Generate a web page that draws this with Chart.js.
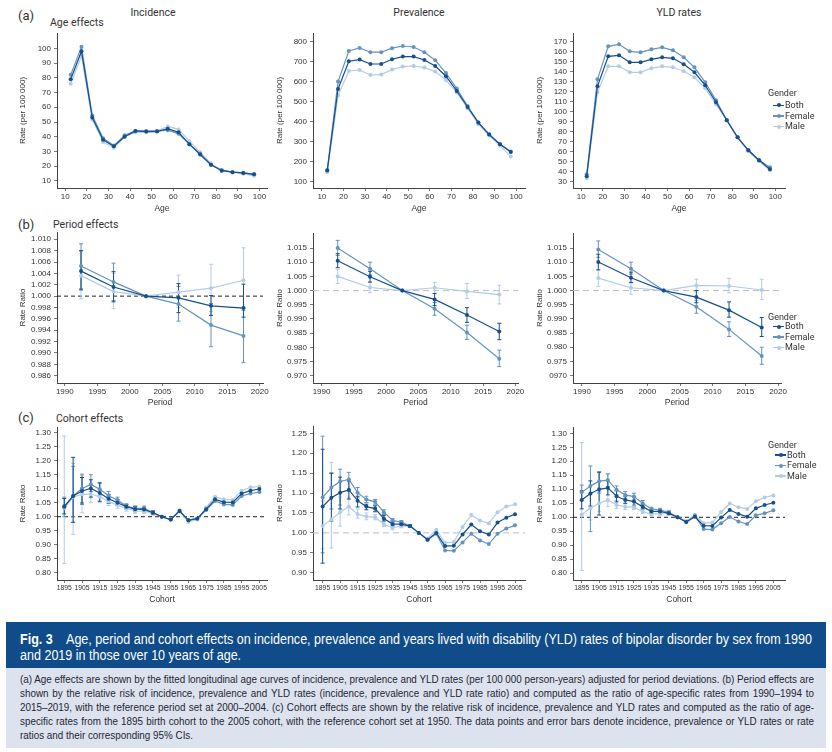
<!DOCTYPE html>
<html>
<head>
<meta charset="utf-8">
<script src="https://cdn.jsdelivr.net/npm/chart.js@4.4.1/dist/chart.umd.min.js"></script>
<style>
  body { margin:0; width:832px; height:752px; position:relative; overflow:hidden; background:#fff;
         font-family:"Liberation Sans Narrow","Liberation Sans",sans-serif; color:#2b2b2b; }
  .box { position:absolute; }
  .lbl { position:absolute; white-space:nowrap; line-height:14px; font-family:Roboto,"Liberation Sans",sans-serif; color:#333; }
  .ttl { font-size:10.5px; transform:translateX(-50%); }
  .tag { font-size:13px; }
  .sub { font-size:10.5px; }
  .lg  { position:absolute; font-family:Roboto,"Liberation Sans",sans-serif; font-size:9px; color:#333; line-height:11px; white-space:nowrap; }
  .mk  { position:absolute; height:1.4px; width:11px; }
  .dot { position:absolute; width:4px; height:4px; border-radius:2px; }
  #cap { position:absolute; left:6px; top:622px; width:820px; }
  #hd { background:#0f4c89; color:#fff; height:46px; box-sizing:border-box; padding:8.75px 0 0 14px; font-size:14px; line-height:16.5px; overflow:hidden; }
  #bd { background:#dde3ee; height:80px; box-sizing:border-box; padding:4px 0 0 14px; font-size:10.6px; line-height:14px; color:#1d2633; overflow:hidden; }
  .blk { transform-origin:0 0; white-space:nowrap; }
  .ln { display:inline-block; white-space:nowrap; }
</style>
</head>
<body>

<div class="lbl tag" style="left:18px;top:9px">(a)</div>
<div class="lbl sub" style="left:50px;top:16px">Age effects</div>
<div class="lbl ttl" style="left:153px;top:6px">Incidence</div>
<div class="lbl ttl" style="left:419px;top:6px">Prevalence</div>
<div class="lbl ttl" style="left:679px;top:6px">YLD rates</div>
<div class="lbl tag" style="left:18px;top:218px">(b)</div>
<div class="lbl sub" style="left:53px;top:218px">Period effects</div>
<div class="lbl tag" style="left:18px;top:411px">(c)</div>
<div class="lbl sub" style="left:56px;top:412px">Cohort effects</div>

<div id="cap">
  <div id="hd"><div class="blk" id="hdb"><span class="ln"><b>Fig. 3</b>&nbsp;&nbsp;&nbsp; Age, period and cohort effects on incidence, prevalence and years lived with disability (YLD) rates of bipolar disorder by sex from 1990</span><br><span class="ln">and 2019 in those over 10 years of age.</span></div></div>
  <div id="bd"><div class="blk" id="bdb"><span class="ln j">(a) Age effects are shown by the fitted longitudinal age curves of incidence, prevalence and YLD rates (per 100 000 person-years) adjusted for period deviations. (b) Period effects are</span><br><span class="ln j">shown by the relative risk of incidence, prevalence and YLD rates (incidence, prevalence and YLD rate ratio) and computed as the ratio of age-specific rates from 1990–1994 to</span><br><span class="ln j">2015–2019, with the reference period set at 2000–2004. (c) Cohort effects are shown by the relative risk of incidence, prevalence and YLD rates and computed as the ratio of age-</span><br><span class="ln j">specific rates from the 1895 birth cohort to the 2005 cohort, with the reference cohort set at 1950. The data points and error bars denote incidence, prevalence or YLD rates or rate</span><br><span class="ln">ratios and their corresponding 95% CIs.</span></div></div>
</div>

<script>
// ---- data ----
var ageMid = [12.5, 17.5, 22.5, 27.5, 32.5, 37.5, 42.5, 47.5, 52.5, 57.5, 62.5, 67.5, 72.5, 77.5, 82.5, 87.5, 92.5, 97.5];
var periodMid = [1992.5, 1997.5, 2002.5, 2007.5, 2012.5, 2017.5];
var cohorts = [1895, 1900, 1905, 1910, 1915, 1920, 1925, 1930, 1935, 1940, 1945, 1950, 1955, 1960, 1965, 1970, 1975, 1980, 1985, 1990, 1995, 2000, 2005];

var ageTicks = [10, 20, 30, 40, 50, 60, 70, 80, 90, 100];
var periodTicks = [1990, 1995, 2000, 2005, 2010, 2015, 2020];
var cohortTicks = [1895, 1905, 1915, 1925, 1935, 1945, 1955, 1965, 1975, 1985, 1995, 2005];

var incAgeY = [10, 20, 30, 40, 50, 60, 70, 80, 90, 100];
var prevAgeY = [100, 200, 300, 400, 500, 600, 700, 800];
var yldAgeY = [30, 40, 50, 60, 70, 80, 90, 100, 110, 120, 130, 140, 150, 160, 170];
var incPeriodY = [0.986, 0.988, 0.990, 0.992, 0.994, 0.996, 0.998, 1.000, 1.002, 1.004, 1.006, 1.008, 1.010];
var prevPeriodY = [0.970, 0.975, 0.980, 0.985, 0.990, 0.995, 1.000, 1.005, 1.010, 1.015];
var yldPeriodY = [0.970, 0.975, 0.980, 0.985, 0.990, 0.995, 1.000, 1.005, 1.010, 1.015];
var yldPeriodYLabels = ['0970', '0.975', '0.980', '0.985', '0.990', '0.995', '1.000', '1.005', '1.010', '1.015'];
var incCohortY = [0.80, 0.85, 0.90, 0.95, 1.00, 1.05, 1.10, 1.15, 1.20, 1.25, 1.30];
var prevCohortY = [0.90, 0.95, 1.00, 1.05, 1.10, 1.15, 1.20, 1.25];
var yldCohortY = [0.80, 0.85, 0.90, 0.95, 1.00, 1.05, 1.10, 1.15, 1.20, 1.25, 1.30];

// age effects (rate per 100 000)
var incAgeBoth   = [79, 98, 53, 38, 33.5, 40, 44, 43.5, 43.5, 45.5, 43, 35, 28, 21, 17, 16, 15.5, 14.5];
var incAgeFemale = [82, 101, 54.5, 39, 34, 41, 44, 44, 44, 44.5, 42, 35, 28.5, 21, 17.5, 16, 15.5, 14.5];
var incAgeMale   = [76, 95, 51.5, 36.5, 32.5, 40, 43, 43, 44, 47, 45, 37, 29.5, 22, 17, 16, 15, 13.5];

var prevAgeBoth   = [155, 563, 702, 710, 688, 688, 712, 725, 725, 708, 678, 627, 553, 473, 395, 335, 287, 248];
var prevAgeFemale = [158, 600, 753, 768, 747, 747, 767, 778, 773, 747, 707, 643, 565, 478, 395, 337, 288, 250];
var prevAgeMale   = [147, 530, 653, 658, 633, 635, 660, 675, 678, 670, 650, 608, 545, 467, 387, 330, 280, 225];

var yldAgeBoth   = [35, 125, 155, 156, 149, 149, 152, 154, 153, 147, 139, 126, 109, 91, 74, 61, 51, 42];
var yldAgeFemale = [37, 132, 165, 167, 160, 159, 162, 164, 161, 154, 144, 129, 111, 91, 74, 61, 51, 44];
var yldAgeMale   = [33, 119, 145, 145, 139, 139, 143, 145, 144, 140, 134, 123, 107, 91, 74, 60, 50, 41];

// period effects (rate ratio) with 95% CI
var incPerBoth   = [1.0044, 1.0016, 1.0000, 0.9997, 0.9983, 0.9979];
var incPerFemale = [1.0053, 1.0025, 1.0000, 0.9986, 0.9949, 0.9930];
var incPerMale   = [1.0036, 1.0008, 1.0000, 1.0007, 1.0014, 1.0028];
var incPerBothLo   = [1.0011, 0.9990, null, 0.9971, 0.9966, 0.9963];
var incPerBothHi   = [1.0080, 1.0043, null, 1.0022, 1.0001, 1.0021];
var incPerFemaleLo = [1.0013, 0.9992, null, 0.9956, 0.9911, 0.9883];
var incPerFemaleHi = [1.0092, 1.0058, null, 1.0017, 0.9987, 0.9975];
var incPerMaleLo   = [0.9995, 0.9978, null, 0.9980, 0.9973, 0.9979];
var incPerMaleHi   = [1.0079, 1.0040, null, 1.0037, 1.0056, 1.0085];

var prevPerBoth   = [1.0105, 1.0049, 1.0000, 0.9969, 0.9914, 0.9856];
var prevPerFemale = [1.0150, 1.0077, 1.0000, 0.9936, 0.9852, 0.9760];
var prevPerMale   = [1.0050, 1.0011, 1.0000, 1.0010, 0.9997, 0.9986];
var prevPerBothLo   = [1.0081, 1.0030, null, 0.9947, 0.9888, 0.9827];
var prevPerBothHi   = [1.0130, 1.0068, null, 0.9990, 0.9940, 0.9885];
var prevPerFemaleLo = [1.0124, 1.0055, null, 0.9913, 0.9828, 0.9732];
var prevPerFemaleHi = [1.0177, 1.0100, null, 0.9958, 0.9878, 0.9790];
var prevPerMaleLo   = [1.0025, 0.9992, null, 0.9990, 0.9972, 0.9953];
var prevPerMaleHi   = [1.0075, 1.0030, null, 1.0029, 1.0025, 1.0019];

var yldPerBoth   = [1.0101, 1.0045, 1.0000, 0.9977, 0.9931, 0.9870];
var yldPerFemale = [1.0145, 1.0077, 1.0000, 0.9943, 0.9863, 0.9769];
var yldPerMale   = [1.0044, 1.0010, 1.0000, 1.0018, 1.0016, 1.0002];
var yldPerBothLo   = [1.0073, 1.0028, null, 0.9957, 0.9906, 0.9838];
var yldPerBothHi   = [1.0128, 1.0065, null, 1.0000, 0.9960, 0.9905];
var yldPerFemaleLo = [1.0117, 1.0058, null, 0.9920, 0.9838, 0.9740];
var yldPerFemaleHi = [1.0175, 1.0100, null, 0.9966, 0.9890, 0.9800];
var yldPerMaleLo   = [1.0015, 0.9987, null, 0.9995, 0.9992, 0.9968];
var yldPerMaleHi   = [1.0073, 1.0030, null, 1.0040, 1.0043, 1.0040];

// cohort effects (rate ratio) with 95% CI (only early cohorts have visible bars)
var incCohBoth   = [1.037, 1.074, 1.092, 1.101, 1.085, 1.064, 1.050, 1.036, 1.027, 1.026, 1.014, 1.000, 0.990, 1.020, 0.987, 0.994, 1.027, 1.062, 1.052, 1.051, 1.083, 1.093, 1.099];
var incCohFemale = [1.033, 1.074, 1.101, 1.115, 1.098, 1.075, 1.060, 1.038, 1.030, 1.030, 1.015, 1.000, 0.990, 1.022, 0.988, 0.993, 1.024, 1.056, 1.044, 1.042, 1.074, 1.083, 1.088];
var incCohMale   = [1.030, 1.071, 1.080, 1.081, 1.071, 1.054, 1.042, 1.030, 1.021, 1.020, 1.012, 1.000, 0.990, 1.019, 0.981, 0.990, 1.033, 1.071, 1.062, 1.060, 1.093, 1.105, 1.108];
var incCohBothLo   = [1.010, 0.980, 1.045, 1.070, 1.055, 1.048, 1.040, 1.028, 1.018, 1.018, 1.008];
var incCohBothHi   = [1.065, 1.212, 1.140, 1.132, 1.121, 1.080, 1.062, 1.044, 1.037, 1.033, 1.020];
var incCohFemaleLo = [1.000, 1.000, 1.050, 1.090, 1.075, 1.062, 1.050, 1.030, 1.022, 1.022, 1.009];
var incCohFemaleHi = [1.070, 1.180, 1.152, 1.150, 1.120, 1.090, 1.070, 1.046, 1.038, 1.038, 1.021];
var incCohMaleLo   = [0.833, 0.937, 1.014, 1.050, 1.050, 1.040, 1.030, 1.020, 1.012, 1.012, 1.005];
var incCohMaleHi   = [1.288, 1.190, 1.148, 1.120, 1.095, 1.070, 1.055, 1.040, 1.030, 1.028, 1.019];

var prevCohBoth   = [1.066, 1.088, 1.101, 1.108, 1.081, 1.066, 1.061, 1.036, 1.022, 1.022, 1.017, 1.000, 0.983, 1.000, 0.967, 0.968, 0.996, 1.021, 1.004, 0.996, 1.026, 1.038, 1.047];
var prevCohFemale = [1.089, 1.114, 1.129, 1.134, 1.101, 1.084, 1.078, 1.052, 1.031, 1.027, 1.017, 1.000, 0.983, 0.998, 0.956, 0.955, 0.976, 0.998, 0.981, 0.972, 0.998, 1.011, 1.019];
var prevCohMale   = [1.017, 1.034, 1.052, 1.066, 1.047, 1.041, 1.039, 1.022, 1.013, 1.017, 1.017, 1.000, 0.986, 1.008, 0.975, 0.977, 1.015, 1.045, 1.031, 1.024, 1.052, 1.066, 1.072];
var prevCohBothLo   = [0.924, 1.030, 1.060, 1.085, 1.065, 1.058, 1.053, 1.030, 1.017, 1.018, 1.014];
var prevCohBothHi   = [1.210, 1.150, 1.140, 1.130, 1.092, 1.072, 1.068, 1.044, 1.028, 1.028, 1.021];
var prevCohFemaleLo = [0.950, 1.060, 1.070, 1.110, 1.088, 1.076, 1.072, 1.046, 1.027, 1.023, 1.014];
var prevCohFemaleHi = [1.243, 1.150, 1.160, 1.152, 1.114, 1.092, 1.084, 1.058, 1.036, 1.031, 1.020];
var prevCohMaleLo   = [0.960, 0.962, 1.017, 1.045, 1.037, 1.033, 1.033, 1.016, 1.008, 1.013, 1.014];
var prevCohMaleHi   = [1.080, 1.177, 1.090, 1.090, 1.060, 1.050, 1.046, 1.028, 1.018, 1.021, 1.020];

var yldCohBoth   = [1.062, 1.085, 1.100, 1.105, 1.075, 1.062, 1.056, 1.038, 1.021, 1.021, 1.014, 1.000, 0.983, 1.002, 0.970, 0.969, 0.999, 1.026, 1.012, 1.002, 1.032, 1.044, 1.052];
var yldCohFemale = [1.089, 1.112, 1.129, 1.133, 1.098, 1.080, 1.074, 1.050, 1.030, 1.026, 1.018, 1.000, 0.983, 1.006, 0.958, 0.956, 0.979, 1.001, 0.985, 0.976, 1.007, 1.014, 1.025];
var yldCohMale   = [1.010, 1.032, 1.050, 1.062, 1.044, 1.038, 1.036, 1.020, 1.011, 1.013, 1.017, 1.000, 0.987, 1.008, 0.979, 0.981, 1.019, 1.049, 1.036, 1.030, 1.057, 1.071, 1.078];
var yldCohBothLo   = [1.030, 1.040, 1.008, 1.080, 1.055, 1.050, 1.040, 1.030, 1.015, 1.015, 1.009];
var yldCohBothHi   = [1.095, 1.130, 1.162, 1.130, 1.095, 1.075, 1.072, 1.046, 1.027, 1.027, 1.019];
var yldCohFemaleLo = [1.060, 0.949, 1.090, 1.110, 1.080, 1.068, 1.062, 1.040, 1.024, 1.020, 1.013];
var yldCohFemaleHi = [1.115, 1.183, 1.160, 1.155, 1.112, 1.092, 1.086, 1.060, 1.036, 1.032, 1.023];
var yldCohMaleLo   = [0.810, 0.990, 1.020, 1.038, 1.032, 1.028, 1.028, 1.013, 1.005, 1.007, 1.012];
var yldCohMaleHi   = [1.267, 1.080, 1.085, 1.155, 1.060, 1.048, 1.046, 1.027, 1.017, 1.019, 1.022];

var COL_BOTH = '#164f8b';
var COL_FEMALE = '#6493c1';
var COL_MALE = '#b3cce5';

// ---- plugins ----
var refLine = {
  id: 'refLine',
  beforeDatasetsDraw: function(chart) {
    var o = chart.options.plugins.refLine;
    if (!o || o.value === undefined) return;
    var ctx = chart.ctx, a = chart.chartArea;
    var py = chart.scales.y.getPixelForValue(o.value);
    ctx.save();
    ctx.strokeStyle = o.color;
    ctx.lineWidth = 1;
    ctx.setLineDash(o.dash);
    ctx.beginPath();
    ctx.moveTo(a.left, py);
    ctx.lineTo(a.right, py);
    ctx.stroke();
    ctx.restore();
  }
};

var errorBars = {
  id: 'errorBars',
  beforeDatasetsDraw: function(chart) {
    var ctx = chart.ctx, xs = chart.scales.x, ys = chart.scales.y;
    chart.data.datasets.slice().reverse().forEach(function(ds) {
      if (!ds.lo) return;
      ctx.save();
      ctx.strokeStyle = ds.borderColor;
      ctx.lineWidth = 1;
      ds.data.forEach(function(p, i) {
        var lo = ds.lo[i], hi = ds.hi[i];
        if (lo == null || hi == null) return;
        var px = xs.getPixelForValue(p.x);
        var y1 = ys.getPixelForValue(lo), y2 = ys.getPixelForValue(hi);
        ctx.beginPath();
        ctx.moveTo(px, y1); ctx.lineTo(px, y2);
        ctx.moveTo(px - 2, y1); ctx.lineTo(px + 2, y1);
        ctx.moveTo(px - 2, y2); ctx.lineTo(px + 2, y2);
        ctx.stroke();
      });
      ctx.restore();
    });
  }
};

Chart.defaults.font.family = '"Liberation Sans", Arial, sans-serif';
Chart.defaults.color = '#333';

function series(label, xs, ys, col, lo, hi) {
  return {
    label: label,
    data: xs.map(function(x, i) { return {x: x, y: ys[i]}; }),
    borderColor: col, backgroundColor: col,
    borderWidth: 1.2, pointRadius: 2, pointBorderWidth: 0, pointHoverRadius: 2,
    lo: lo, hi: hi
  };
}

// area = [left, top, right, bottom] of plot area on the page, yt/xt = axis title centres
function panel(g, o) {
  var cl = Math.round(g.yt - 6.8), ct = g.area[1] - 12;
  var cw = Math.round(g.area[2] + 16 - cl), chh = Math.round(g.xt + 6.8 - ct);
  var box = document.createElement('div');
  box.className = 'box';
  box.style.cssText = 'left:' + cl + 'px;top:' + ct + 'px;width:' + cw + 'px;height:' + chh + 'px';
  var cv = document.createElement('canvas');
  box.appendChild(cv);
  document.body.appendChild(box);
  var yW = g.area[0] - cl, xH = ct + chh - g.area[3];
  var gridOpt = {display: true, drawOnChartArea: false, drawTicks: true, tickLength: 3, color: '#777'};
  new Chart(cv, {
    type: 'line',
    data: {datasets: o.datasets},
    options: {
      responsive: true, maintainAspectRatio: false, animation: false,
      layout: {padding: {top: 12, right: 16, left: 0, bottom: 0}},
      plugins: {legend: {display: false}, tooltip: {enabled: false}, refLine: o.ref || {}},
      scales: {
        x: {
          type: 'linear', min: o.xMin, max: o.xMax,
          afterBuildTicks: function(ax) { ax.ticks = o.xTicks.map(function(v) { return {value: v}; }); },
          afterFit: function(ax) { ax.height = xH; },
          ticks: {font: {size: o.xFont || 8}, color: '#333', padding: 1, maxRotation: 0, autoSkip: false,
                  callback: function(v) { return String(v); }},
          grid: gridOpt,
          border: {display: true, color: '#444', width: 1},
          title: {display: true, text: o.xTitle, font: {size: 8.5}, color: '#333', padding: {top: 0, bottom: 2}}
        },
        y: {
          type: 'linear', min: o.yMin, max: o.yMax,
          afterBuildTicks: function(ax) { ax.ticks = o.yTicks.map(function(v) { return {value: v}; }); },
          afterFit: function(ax) { ax.width = yW; },
          ticks: {font: {size: 8}, color: '#333', padding: 3, autoSkip: false,
                  callback: function(v, i) { return o.yLabels ? o.yLabels[i] : (o.dec ? v.toFixed(o.dec) : String(v)); }},
          grid: gridOpt,
          border: {display: true, color: '#444', width: 1},
          title: {display: true, text: o.yTitle, font: {size: 8}, color: '#333', padding: {top: 2, bottom: 0}}
        }
      }
    },
    plugins: [refLine, errorBars]
  });
}

function three(xs, b, f, m, ci) {
  ci = ci || [];
  return [series('Both', xs, b, COL_BOTH, ci[0], ci[1]),
          series('Female', xs, f, COL_FEMALE, ci[2], ci[3]),
          series('Male', xs, m, COL_MALE, ci[4], ci[5])];
}

var RATE = 'Rate (per 100 000)';
var BLACK = {value: 1, color: '#222', dash: [4, 3]};
var GREY = {value: 1, color: '#bdbdbd', dash: [6, 4]};

// row (a)
panel({area: [57, 33, 267, 188], yt: 23, xt: 209},
  {datasets: three(ageMid, incAgeBoth, incAgeFemale, incAgeMale), xMin: 6.15, xMax: 103.5, xTicks: ageTicks,
   yMin: 5.25, yMax: 110.4, yTicks: incAgeY, xTitle: 'Age', yTitle: RATE});
panel({area: [313, 33, 525, 188], yt: 280, xt: 209},
  {datasets: three(ageMid, prevAgeBoth, prevAgeFemale, prevAgeMale), xMin: 5.9, xMax: 104.1, xTicks: ageTicks,
   yMin: 68, yMax: 843, yTicks: prevAgeY, xTitle: 'Age', yTitle: RATE});
panel({area: [573, 33, 785, 188], yt: 540, xt: 209},
  {datasets: three(ageMid, yldAgeBoth, yldAgeFemale, yldAgeMale), xMin: 6.15, xMax: 104.5, xTicks: ageTicks,
   yMin: 23.3, yMax: 178.3, yTicks: yldAgeY, xTitle: 'Age', yTitle: RATE});

// row (b)
panel({area: [57, 232, 263, 383], yt: 23, xt: 403},
  {datasets: three(periodMid, incPerBoth, incPerFemale, incPerMale,
     [incPerBothLo, incPerBothHi, incPerFemaleLo, incPerFemaleHi, incPerMaleLo, incPerMaleHi]),
   xMin: 1988.8, xMax: 2020.5, xTicks: periodTicks, yMin: 0.98472, yMax: 1.01128, yTicks: incPeriodY, dec: 3,
   xTitle: 'Period', yTitle: 'Rate Ratio', ref: BLACK});
panel({area: [313, 233, 518, 383], yt: 280, xt: 403},
  {datasets: three(periodMid, prevPerBoth, prevPerFemale, prevPerMale,
     [prevPerBothLo, prevPerBothHi, prevPerFemaleLo, prevPerFemaleHi, prevPerMaleLo, prevPerMaleHi]),
   xMin: 1988.68, xMax: 2020.4, xTicks: periodTicks, yMin: 0.96743, yMax: 1.0203, yTicks: prevPeriodY, dec: 3,
   xTitle: 'Period', yTitle: 'Rate Ratio', ref: GREY});
panel({area: [573, 233, 781, 383], yt: 540, xt: 403},
  {datasets: three(periodMid, yldPerBoth, yldPerFemale, yldPerMale,
     [yldPerBothLo, yldPerBothHi, yldPerFemaleLo, yldPerFemaleHi, yldPerMaleLo, yldPerMaleHi]),
   xMin: 1988.63, xMax: 2020.45, xTicks: periodTicks, yMin: 0.9674, yMax: 1.0203, yTicks: yldPeriodY, yLabels: yldPeriodYLabels,
   xTitle: 'Period', yTitle: 'Rate Ratio', ref: GREY});

// row (c)
panel({area: [57, 427, 267, 580], yt: 23, xt: 600},
  {datasets: three(cohorts, incCohBoth, incCohFemale, incCohMale,
     [incCohBothLo, incCohBothHi, incCohFemaleLo, incCohFemaleHi, incCohMaleLo, incCohMaleHi]),
   xMin: 1890.9, xMax: 2009.3, xTicks: cohortTicks, xFont: 6.8, yMin: 0.774, yMax: 1.3204, yTicks: incCohortY, dec: 2,
   xTitle: 'Cohort', yTitle: 'Rate Ratio', ref: BLACK});
panel({area: [313, 426, 525, 580], yt: 280, xt: 600},
  {datasets: three(cohorts, prevCohBoth, prevCohFemale, prevCohMale,
     [prevCohBothLo, prevCohBothHi, prevCohFemaleLo, prevCohFemaleHi, prevCohMaleLo, prevCohMaleHi]),
   xMin: 1889.5, xMax: 2010.7, xTicks: cohortTicks, xFont: 6.8, yMin: 0.8817, yMax: 1.2684, yTicks: prevCohortY, dec: 2,
   xTitle: 'Cohort', yTitle: 'Rate Ratio', ref: GREY});
panel({area: [573, 427, 785, 580], yt: 540, xt: 600},
  {datasets: three(cohorts, yldCohBoth, yldCohFemale, yldCohMale,
     [yldCohBothLo, yldCohBothHi, yldCohFemaleLo, yldCohFemaleHi, yldCohMaleLo, yldCohMaleHi]),
   xMin: 1890, xMax: 2011.7, xTicks: cohortTicks, xFont: 6.8, yMin: 0.776, yMax: 1.3225, yTicks: yldCohortY, dec: 2,
   xTitle: 'Cohort', yTitle: 'Rate Ratio', ref: BLACK});

// ---- legends ----
function legend(xg, yg, ys, xm, xt) {
  var g = document.createElement('div');
  g.className = 'lg'; g.textContent = 'Gender';
  g.style.left = xg + 'px'; g.style.top = (yg - 5.5) + 'px';
  document.body.appendChild(g);
  [['Both', COL_BOTH], ['Female', COL_FEMALE], ['Male', COL_MALE]].forEach(function(it, i) {
    var l = document.createElement('div');
    l.className = 'mk'; l.style.background = it[1];
    l.style.left = xm + 'px'; l.style.top = (ys[i] - 0.7) + 'px';
    document.body.appendChild(l);
    var d = document.createElement('div');
    d.className = 'dot'; d.style.background = it[1];
    d.style.left = (xm + 3.5) + 'px'; d.style.top = (ys[i] - 2) + 'px';
    document.body.appendChild(d);
    var t = document.createElement('div');
    t.className = 'lg'; t.textContent = it[0];
    t.style.left = xt + 'px'; t.style.top = (ys[i] - 5.5) + 'px';
    document.body.appendChild(t);
  });
}
legend(768, 93.3, [105.3, 116, 126.7], 773, 785);
legend(768, 317.3, [326.7, 337, 347.7], 773, 785);
legend(768, 445, [455, 465.7, 476], 775, 787);

// ---- caption fitting: scale each block so its first line spans the box, justify full lines ----
function fitBlock(id, target, justify) {
  var blk = document.getElementById(id);
  var lines = blk.querySelectorAll('.ln');
  var s = target / lines[0].getBoundingClientRect().width;
  if (justify) {
    lines.forEach(function(ln) {
      if (!ln.classList.contains('j')) return;
      var w = ln.getBoundingClientRect().width;
      var n = (ln.textContent.match(/[ \u00a0]/g) || []).length;
      ln.style.wordSpacing = ((target / s - w) / n) + 'px';
    });
  }
  blk.style.transform = 'scaleX(' + s + ')';
}
fitBlock('hdb', 792, false);
fitBlock('bdb', 794, true);
</script>
</body>
</html>
